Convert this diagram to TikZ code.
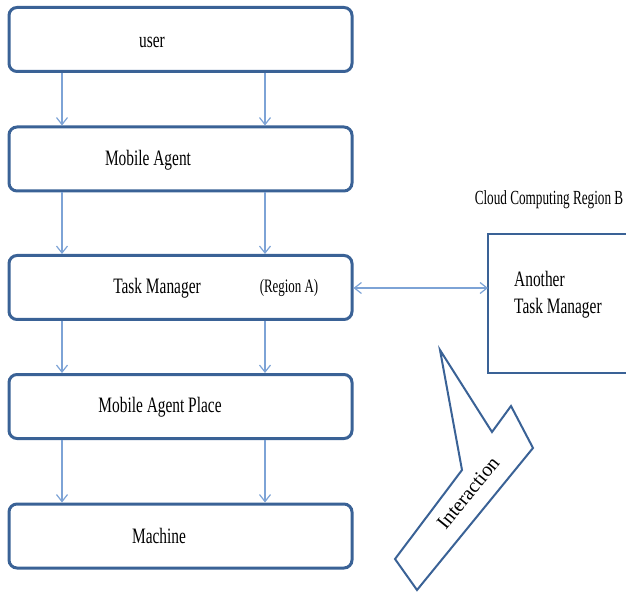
\documentclass[tikz,border=0pt]{standalone}
\usepackage{fontspec}
\setmainfont{Liberation Serif}
\usetikzlibrary{arrows.meta}
\definecolor{boxblue}{HTML}{3A6296}
\definecolor{arrblue}{HTML}{7DA3D6}
\newcommand{\sqz}[3]{{\fontsize{#1}{#1}\selectfont\scalebox{#2}[1]{#3}}}
\tikzset{
  box/.style={draw=boxblue, line width=3pt, rounded corners=8pt, minimum width=343pt, minimum height=64pt, inner sep=0pt},
  sqbox/.style={draw=boxblue, line width=2.6pt, inner sep=0pt},
  txt/.style={inner sep=0pt, text=black},
  arr/.style={draw=arrblue, line width=1.2pt, -{Straight Barb[length=7pt,width=11pt]}},
  darr/.style={draw=arrblue, line width=1.2pt, {Straight Barb[length=7pt,width=11pt]}-{Straight Barb[length=7pt,width=11pt]}},
  callout/.style={draw=boxblue, line width=2pt, line join=miter}
}
\begin{document}
\begin{tikzpicture}[x=1pt,y=-1pt]
\useasboundingbox (0,0) rectangle (626,601);
% main boxes
\node[box] (user) at (180.5,39.5) {};
\node[box] (mob)  at (180.5,159) {};
\node[box] (tm)   at (180.5,287.5) {};
\node[box] (map)  at (180.5,406.5) {};
\node[box] (mach) at (180.5,536) {};
% texts
\node[txt] (userT) at (152,42) {\sqz{22}{0.7}{user}};
\node[txt] (mobT)  at (148,160) {\sqz{22}{0.7}{Mobile Agent}};
\node[txt] (tmT)   at (157,288) {\sqz{22}{0.7}{Task Manager}};
\node[txt] (regA)  at (289,288) {\sqz{19}{0.68}{(Region A)}};
\node[txt] (mapT)  at (160,407) {\sqz{22}{0.7}{Mobile Agent Place}};
\node[txt] (machT) at (159,536) {\sqz{22}{0.7}{Machine}};
% arrow columns
\coordinate (L) at (62,0);
\coordinate (R) at (265,0);
\draw[arr] (user.south -| L) -- (mob.north -| L);
\draw[arr] (user.south -| R) -- (mob.north -| R);
\draw[arr] (mob.south -| L) -- (tm.north -| L);
\draw[arr] (mob.south -| R) -- (tm.north -| R);
\draw[arr] (tm.south -| L) -- (map.north -| L);
\draw[arr] (tm.south -| R) -- (map.north -| R);
\draw[arr] (map.south -| L) -- (mach.north -| L);
\draw[arr] (map.south -| R) -- (mach.north -| R);
% region B
\node[txt] (cloud) at (549,200) {\sqz{20}{0.66}{Cloud Computing Region B}};
\draw[sqbox] (640,234) -- (488,234) -- (488,373) -- (640,373);
\coordinate (another) at (488,288);
\node[txt, anchor=west] (anT1) at (514,279) {\sqz{22}{0.7}{Another}};
\node[txt, anchor=west] (anT2) at (514,308) {\sqz{22}{0.7}{Task Manager}};
\draw[darr] (tm.east |- another) -- (another);
% interaction callout
\draw[callout] (440,350) -- (492,432) -- (511,406) -- (533,448) -- (417,590) -- (395,559) -- (462,470) -- cycle;
\node[txt, rotate=51] (inter) at (468,493) {\fontsize{20}{20}\selectfont Interaction};
\end{tikzpicture}
\end{document}
